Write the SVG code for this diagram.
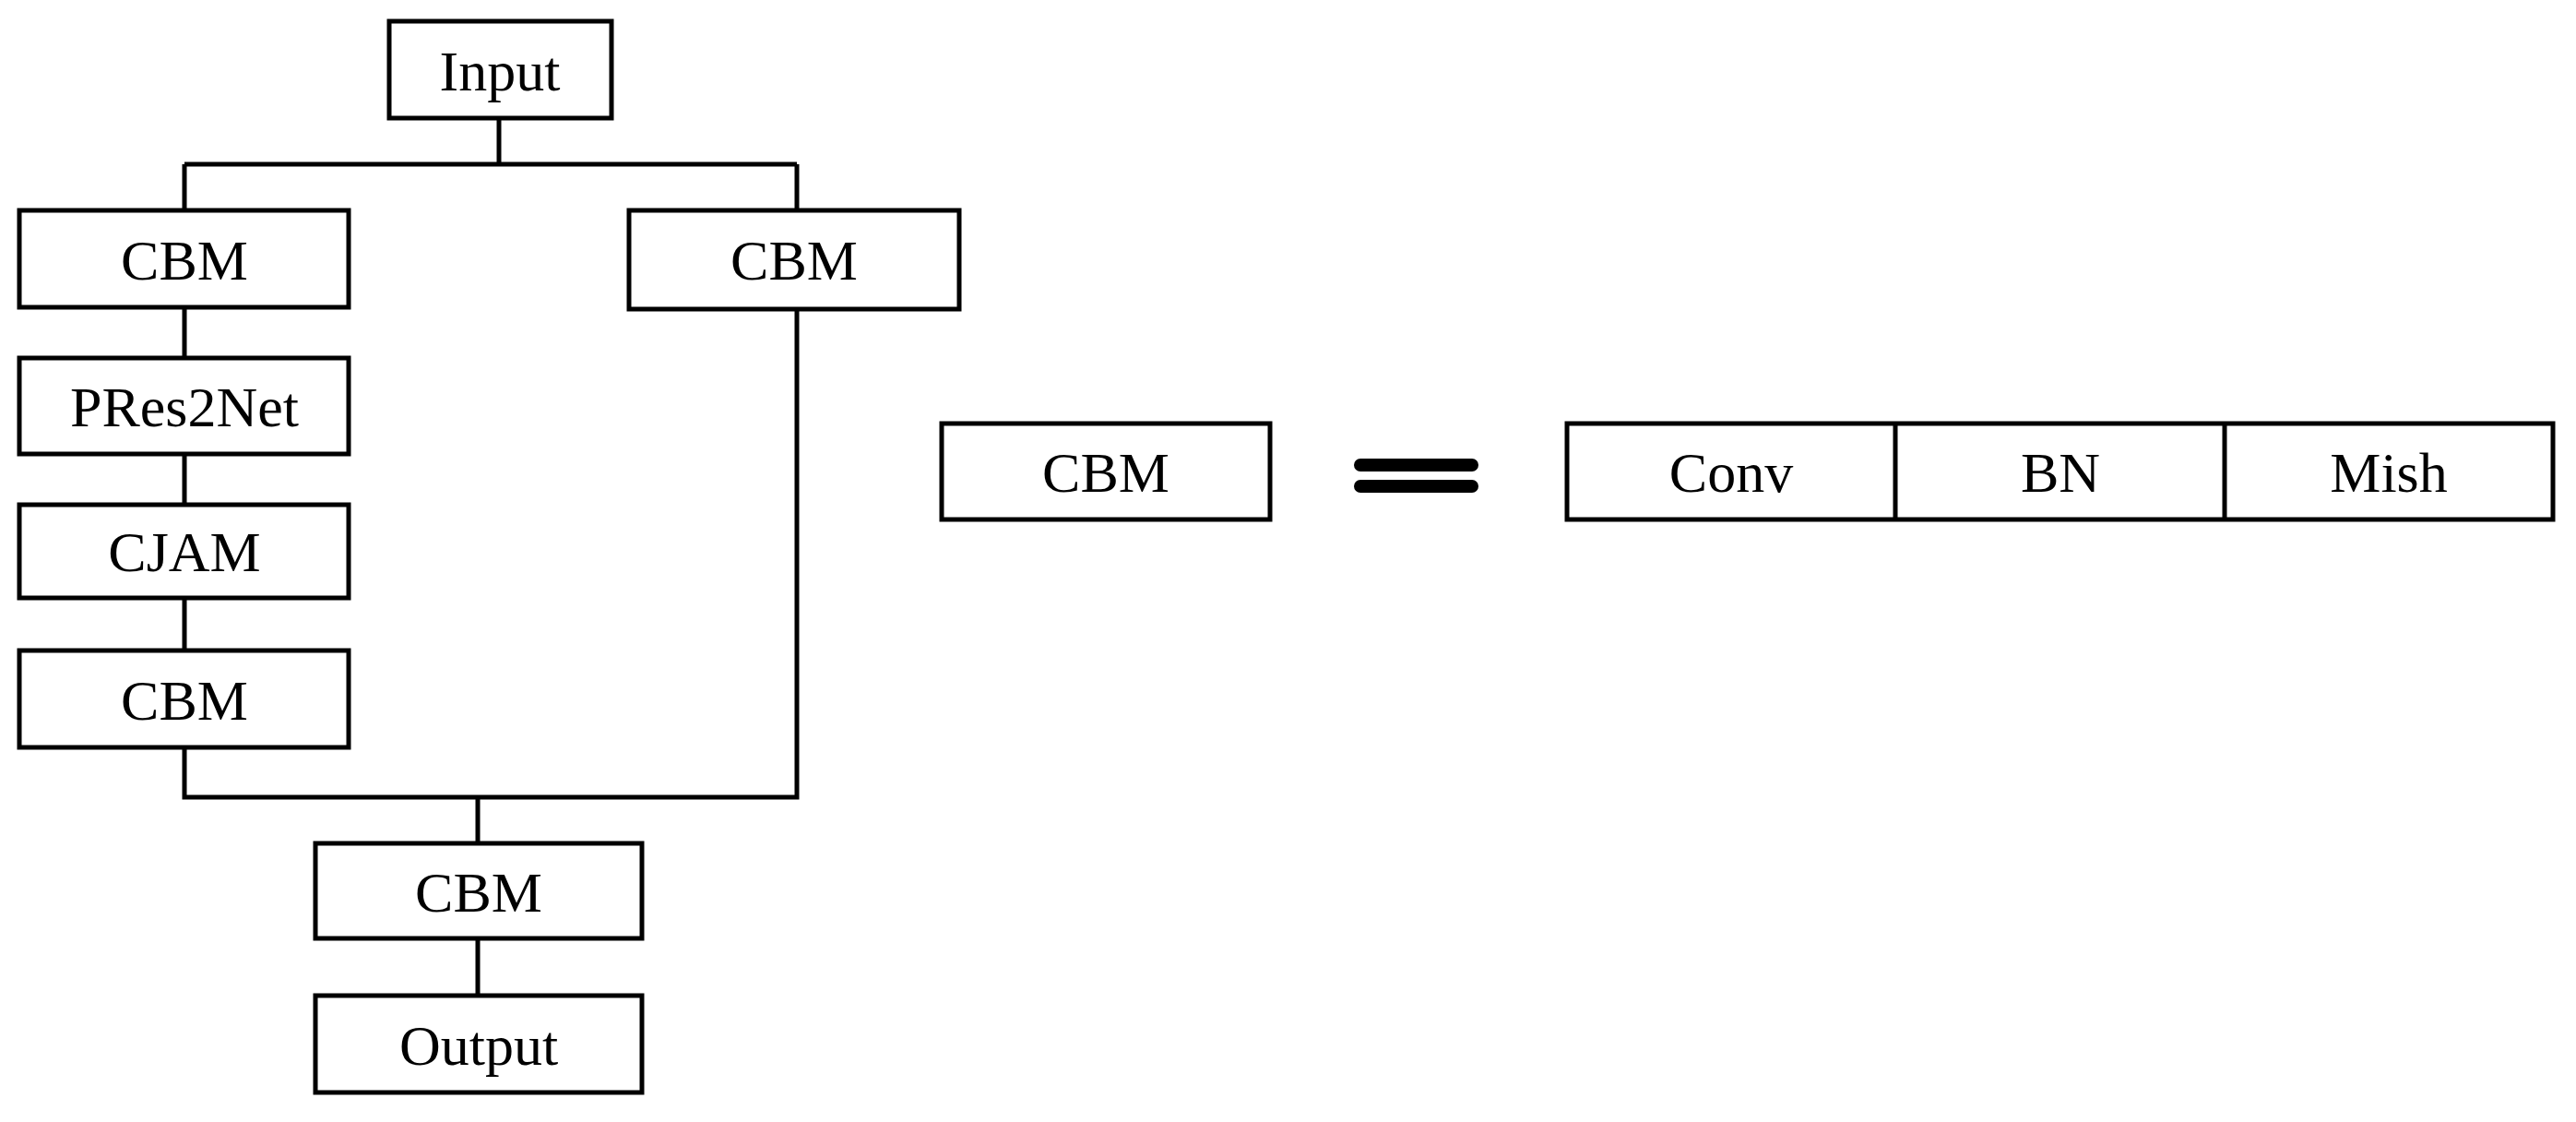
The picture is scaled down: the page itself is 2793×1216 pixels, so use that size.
<svg xmlns="http://www.w3.org/2000/svg" width="2793" height="1216" viewBox="0 0 2793 1216">
<style>
.b{fill:#fff;stroke:#000;stroke-width:5}
.t{font-family:"Liberation Serif",serif;font-size:62px;text-anchor:middle;dominant-baseline:central;fill:#000}
.c{fill:none;stroke:#000;stroke-width:5}
</style>
<rect width="2793" height="1216" fill="#fff"/>
<g id="connectors">
<path class="c" d="M541 128V178M200 178H864M200 178V228M864 178V228M200 333V388M200 492V547M200 648V705M200 810V864H864V335M518 864V914M518 1017V1079"/>
<path d="M1475 504H1596M1475 527H1596" stroke="#000" stroke-width="14" stroke-linecap="round"/>
</g>
<g id="input"><rect class="b" x="422" y="23" width="241" height="105"/><text class="t" x="542" y="77">Input</text></g>
<g id="cbm1"><rect class="b" x="21" y="228" width="357" height="105"/><text class="t" x="200" y="282">CBM</text></g>
<g id="cbm2"><rect class="b" x="682" y="228" width="358" height="107"/><text class="t" x="861" y="282">CBM</text></g>
<g id="pres2net"><rect class="b" x="21" y="388" width="357" height="104"/><text class="t" x="200" y="441">PRes2Net</text></g>
<g id="cjam"><rect class="b" x="21" y="547" width="357" height="101"/><text class="t" x="200" y="598">CJAM</text></g>
<g id="cbm3"><rect class="b" x="21" y="705" width="357" height="105"/><text class="t" x="200" y="759">CBM</text></g>
<g id="cbm4"><rect class="b" x="342" y="914" width="354" height="103"/><text class="t" x="519" y="967">CBM</text></g>
<g id="output"><rect class="b" x="342" y="1079" width="354" height="105"/><text class="t" x="519" y="1133">Output</text></g>
<g id="cbmdef"><rect class="b" x="1021" y="459" width="356" height="104"/><text class="t" x="1199" y="512">CBM</text></g>
<g id="composite">
<rect class="b" x="1699" y="459" width="1069" height="104"/>
<path class="c" d="M2055 459V563M2412 459V563"/>
<text class="t" x="1877" y="512">Conv</text>
<text class="t" x="2234" y="512">BN</text>
<text class="t" x="2590" y="512">Mish</text>
</g>
</svg>
